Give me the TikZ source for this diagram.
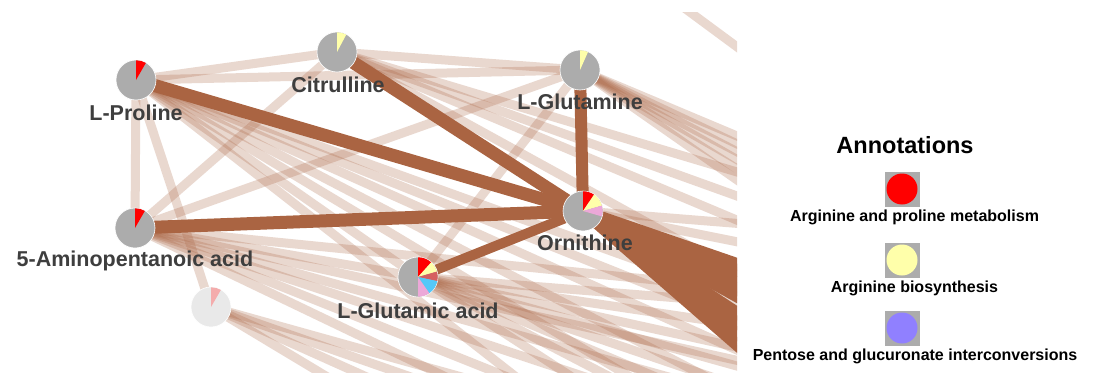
\documentclass[tikz,border=0pt]{standalone}
\usepackage{fontspec}
\setmainfont{Liberation Sans}
\definecolor{dk}{RGB}{170,100,66}
\definecolor{ngray}{RGB}{172,172,172}
\definecolor{lbl}{RGB}{62,62,62}
\definecolor{pyel}{RGB}{255,255,170}
\definecolor{ppink}{RGB}{236,168,216}
\definecolor{psal}{RGB}{214,96,96}
\definecolor{pblue}{RGB}{85,200,248}
\definecolor{fgray}{RGB}{233,233,233}
\definecolor{fpink}{RGB}{244,172,172}
\definecolor{lpurp}{RGB}{144,128,255}
\pgfdeclarelayer{bg}
\pgfsetlayers{bg,main}
\tikzset{
  nd/.style={circle, fill=ngray, minimum size=40pt, inner sep=0pt, draw=white, line width=0.6pt},
  lab/.style={anchor=base, text=lbl, font=\fontsize{21.5}{24}\selectfont\bfseries, inner sep=0pt},
  lite/.style={draw=dk, draw opacity=0.25, line width=9pt},
  dkedge/.style={draw=dk, line width=#1},
  leg/.style={anchor=base, text=black, font=\fontsize{16}{18}\selectfont\bfseries, inner sep=0pt},
  sqbox/.style={fill=ngray, minimum size=35pt, inner sep=0pt},
  legdot/.style={circle, fill=#1, minimum size=31pt, inner sep=0pt},
}
\newcommand\pieslc[5]{\fill[#5] (#1.center) -- ++(#3:#2) arc[start angle=#3, end angle=#4, radius=#2] -- cycle;}
\newcommand\litefan[3]{\foreach \a [count=\i] in {#3} {\path (#1.center) ++(-\a:1000pt) coordinate (#2\i); \draw[lite] (#1.center) -- (#2\i);}}
\newcommand\darkfan[3]{\foreach \a [count=\i] in {#3} {\path (#1.center) ++(-\a:300pt) coordinate (#2\i); \draw[dkedge=12pt] (#1.center) -- (#2\i);}}
\begin{document}
\begin{tikzpicture}[x=1pt,y=-1pt]
\path[use as bounding box] (0,0) rectangle (1094,372);
% nodes
\node[nd] (pro) at (136,80) {};
\node[nd] (cit) at (337,52) {};
\node[nd] (gln) at (580,70) {};
\node[nd] (ami) at (135,228) {};
\node[nd] (orn) at (583,211) {};
\node[nd] (glu) at (418,277) {};
\node[nd, fill=fgray] (fad) at (211,307) {};
% pie slices
\pieslc{pro}{19.7pt}{90}{60}{red}
\pieslc{cit}{19.7pt}{90}{62}{pyel}
\pieslc{gln}{19.7pt}{90}{66}{pyel}
\pieslc{ami}{19.7pt}{90}{60}{red}
\pieslc{orn}{19.7pt}{90}{56}{red}
\pieslc{orn}{19.7pt}{56}{16}{pyel}
\pieslc{orn}{19.7pt}{16}{-16}{ppink}
\pieslc{glu}{19.7pt}{90}{48}{red}
\pieslc{glu}{19.7pt}{48}{16}{pyel}
\pieslc{glu}{19.7pt}{16}{-12}{psal}
\pieslc{glu}{19.7pt}{-12}{-55}{pblue}
\pieslc{glu}{19.7pt}{-55}{-90}{ppink}
\pieslc{fad}{19.7pt}{90}{60}{fpink}
% labels
\node[lab] (lpro) at (136,120.5) {L-Proline};
\node[lab] (lcit) at (338,92) {Citrulline};
\node[lab] (lgln) at (580,109) {L-Glutamine};
\node[lab] (lami) at (135,266.5) {5-Aminopentanoic acid};
\node[lab] (lorn) at (585,250) {Ornithine};
\node[lab] (lglu) at (418,318.5) {L-Glutamic acid};
% legend
\node[anchor=base, text=black, font=\fontsize{23.5}{26}\selectfont\bfseries, inner sep=0pt] (ttl) at (905,153.5) {Annotations};
\node[sqbox] (sq1) at (902,189) {};
\node[legdot=red] (d1) at (sq1.center) {};
\node[leg] (t1) at (914.5,221.5) {Arginine and proline metabolism};
\node[sqbox] (sq2) at (902,260) {};
\node[legdot=pyel] (d2) at (sq2.center) {};
\node[leg] (t2) at (914.5,292.5) {Arginine biosynthesis};
\node[sqbox] (sq3) at (902,328) {};
\node[legdot=lpurp] (d3) at (sq3.center) {};
\node[leg] (t3) at (915,360.5) {Pentose and glucuronate interconversions};
% edges
\begin{pgfonlayer}{bg}
\fill[white] (0,0) rectangle (1094,372);
\begin{scope}
\clip (0,12) rectangle (737,372);
\coordinate (tr1) at (660,-10);
\coordinate (tr2) at (790,86);
\draw[lite] (tr1) -- (tr2);
\draw[lite] (pro.center) -- (cit.center);
\draw[lite] (pro.center) -- (gln.center);
\draw[lite] (cit.center) -- (gln.center);
\draw[lite] (pro.center) -- (ami.center);
\draw[lite] (pro.center) -- (fad.center);
\draw[lite] (pro.center) -- (glu.center);
\draw[lite] (cit.center) -- (ami.center);
\draw[lite] (gln.center) -- (ami.center);
\draw[lite] (gln.center) -- (glu.center);
\draw[lite] (ami.center) -- (glu.center);
\litefan{pro}{xp}{19.8,21.8,24.2,27.5,31.0,38.0}
\litefan{cit}{xc}{16.7,19.8,22.8,28.8}
\litefan{gln}{xg}{22.8,25.2,27.5,29.7,32.2,35.0}
\litefan{ami}{xa}{5.7,12.4,15.6,18.3,21.8,25.6}
\litefan{fad}{xf}{15.6,19.3,24.2,31.0}
\litefan{glu}{xu}{4.6,8.5,12.4,15.6,18.8,22.8,27.5,33.0}
\litefan{orn}{xo}{4.6,11.3}
\draw[dkedge=13pt] (pro.center) -- (orn.center);
\draw[dkedge=13pt] (cit.center) -- (orn.center);
\draw[dkedge=12pt] (gln.center) -- (orn.center);
\draw[dkedge=13pt] (ami.center) -- (orn.center);
\draw[dkedge=10pt] (glu.center) -- (orn.center);
\darkfan{orn}{w}{19,21,23,25,27,29,33.5,36,38.5,41}
\end{scope}
\end{pgfonlayer}
\end{tikzpicture}
\end{document}
